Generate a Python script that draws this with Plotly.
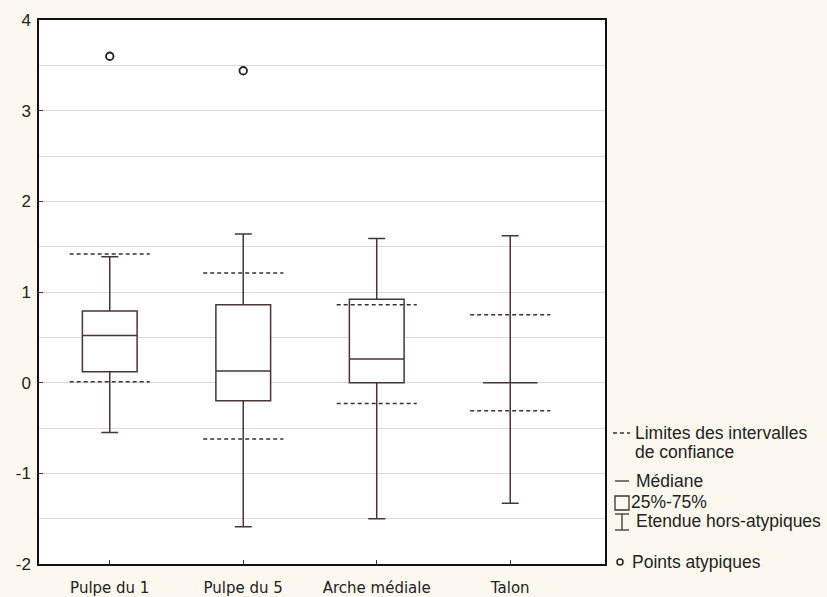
import plotly.graph_objects as go

# ---- data ----
categories = ["Pulpe du 1", "Pulpe du 5", "Arche médiale", "Talon"]
q1 = [0.12, -0.20, 0.00, 0.00]
median = [0.52, 0.13, 0.26, 0.00]
q3 = [0.79, 0.86, 0.92, 0.00]
whisker_low = [-0.55, -1.59, -1.50, -1.33]
whisker_high = [1.39, 1.64, 1.59, 1.62]
ci_low = [0.01, -0.62, -0.23, -0.31]
ci_high = [1.42, 1.21, 0.86, 0.75]
outlier_cat = [0, 1]
outlier_val = [3.60, 3.44]

y_tickvals = [-2, -1, 0, 1, 2, 3, 4]
y_ticktext = ["-2", "-1", "0", "1", "2", "3", "4"]

legend_texts = ["Limites des intervalles", "de confiance", "Médiane", "25%-75%",
                "Etendue hors-atypiques", "Points atypiques"]

# ---- geometry helpers (layout only) ----
W, H = 827, 597
L, R, T, B = 39, 605, 20, 564
def px(x):
    return (x - L) / (R - L)
def py(y):
    return (B - y) / (B - T)

LINE = "#4a3434"
DASH = "#333333"
BG = "#fcf8ee"
FONT = "Liberation Sans, Arial, sans-serif"

fig = go.Figure()

xs = list(range(len(categories)))
fig.add_trace(go.Box(
    x=xs, q1=q1, median=median, q3=q3,
    lowerfence=whisker_low, upperfence=whisker_high,
    width=0.41, whiskerwidth=0.31,
    fillcolor="white", line=dict(color=LINE, width=1.5),
    boxpoints=False, showlegend=False, hoverinfo="skip",
))

# confidence limits
cx, cy = [], []
for i in xs:
    for v in (ci_low[i], ci_high[i]):
        cx += [i - 0.3, i + 0.3, None]
        cy += [v, v, None]
fig.add_trace(go.Scatter(x=cx, y=cy, mode="lines",
                         line=dict(color=DASH, width=1.5, dash="4px,3px"),
                         showlegend=False, hoverinfo="skip"))

# outliers
fig.add_trace(go.Scatter(x=outlier_cat, y=outlier_val, mode="markers",
                         marker=dict(symbol="circle-open", size=7.5,
                                     color="#222222", line=dict(width=1.8)),
                         showlegend=False, hoverinfo="skip"))

# ---- custom legend ----
shapes = []
ann = []
def line(x0, y0, x1, y1, dash=None):
    shapes.append(dict(type="line", xref="paper", yref="paper",
                       x0=px(x0), y0=py(y0), x1=px(x1), y1=py(y1),
                       line=dict(color="#333333", width=1.3, dash=dash)))
def text(x, y, t):
    ann.append(dict(x=px(x), y=py(y), xref="paper", yref="paper", text=t,
                    showarrow=False, xanchor="left", yanchor="middle",
                    font=dict(family=FONT, size=17.5, color="#222222")))

line(613, 433, 630, 433, dash="4px,3px")
text(633, 433, legend_texts[0])
text(633, 452, legend_texts[1])
line(615, 481, 629, 481)
text(634, 481, legend_texts[2])
shapes.append(dict(type="rect", xref="paper", yref="paper",
                   x0=px(615), x1=px(629), y0=py(510), y1=py(496),
                   line=dict(color="#333333", width=1.3)))
text(629, 502, legend_texts[3])
line(622, 514, 622, 530)
line(615, 514, 629, 514)
line(615, 530, 629, 530)
text(634, 521, legend_texts[4])
shapes.append(dict(type="circle", xref="paper", yref="paper",
                   x0=px(617), x1=px(623), y0=py(565), y1=py(559),
                   line=dict(color="#222222", width=1.5)))
text(630, 562, legend_texts[5])

fig.update_layout(
    width=W, height=H,
    margin=dict(l=L, r=W - R, t=T, b=H - B, pad=0, autoexpand=False),
    paper_bgcolor=BG, plot_bgcolor="white",
    shapes=shapes, annotations=ann,
    showlegend=False,
    xaxis=dict(range=[-0.53, 3.71], tickvals=xs, ticktext=categories,
               automargin=False,
               showgrid=False, zeroline=False,
               showline=True, linecolor="#111111", linewidth=1.5, mirror=True,
               ticks="inside", ticklen=4, tickcolor="#333333",
               ticklabelstandoff=9,
               tickfont=dict(family="DejaVu Sans, Verdana, sans-serif", size=15, color="#222222")),
    yaxis=dict(range=[-2, 4], tickvals=y_tickvals, ticktext=y_ticktext,
               automargin=False,
               showgrid=True, gridcolor="#d9d9d9", gridwidth=1,
               minor=dict(dtick=0.5, tick0=0, showgrid=True, gridcolor="#d9d9d9", gridwidth=1),
               zeroline=False,
               showline=True, linecolor="#111111", linewidth=1.5, mirror=True,
               ticks="inside", ticklen=4, tickcolor="#333333",
               ticklabelstandoff=3,
               tickfont=dict(family=FONT, size=17, color="#222222")),
)

fig.write_html("out.html", config={"displayModeBar": False},
               post_script="document.body.style.margin='0';document.body.style.background='%s';" % BG)
